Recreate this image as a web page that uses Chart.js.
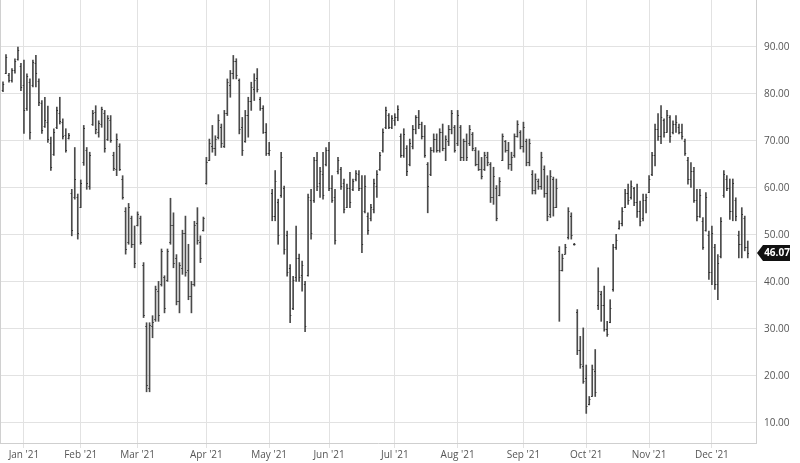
<!DOCTYPE html>
<html>
<head>
  <meta charset="UTF-8" />
  <title>OHLC 2021</title>
  <script src="https://cdn.jsdelivr.net/npm/chart.js"></script>
  <style>
    html, body { margin: 0; padding: 0; background: #ffffff; }
    #wrap { width: 800px; height: 463px; }
  </style>
</head>
<body>
  <div id="wrap"><canvas id="chart"></canvas></div>

  <script>
    // trading days per month (Dec '20 .. Dec '21)
    const monthNames = ['Dec', 'Jan', 'Feb', 'Mar', 'Apr', 'May', 'Jun', 'Jul', 'Aug', 'Sep', 'Oct', 'Nov', 'Dec'];
    const monthYears = ['20', '21', '21', '21', '21', '21', '21', '21', '21', '21', '21', '21', '21'];
    const monthDays = [
      [22, 23, 24, 28, 29, 30, 31],
      [4, 5, 6, 7, 8, 11, 12, 13, 14, 15, 19, 20, 21, 22, 25, 26, 27, 28, 29],
      [1, 2, 3, 4, 5, 8, 9, 10, 11, 12, 16, 17, 18, 19, 22, 23, 24, 25, 26],
      [1, 2, 3, 4, 5, 8, 9, 10, 11, 12, 15, 16, 17, 18, 19, 22, 23, 24, 25, 26, 29, 30, 31],
      [1, 5, 6, 7, 8, 9, 12, 13, 14, 15, 16, 19, 20, 21, 22, 23, 26, 27, 28, 29, 30],
      [3, 4, 5, 6, 7, 10, 11, 12, 13, 14, 17, 18, 19, 20, 21, 24, 25, 26, 27, 28],
      [1, 2, 3, 4, 7, 8, 9, 10, 11, 14, 15, 16, 17, 18, 21, 22, 23, 24, 25, 28, 29, 30],
      [1, 2, 6, 7, 8, 9, 12, 13, 14, 15, 16, 19, 20, 21, 22, 23, 26, 27, 28, 29, 30],
      [2, 3, 4, 5, 6, 9, 10, 11, 12, 13, 16, 17, 18, 19, 20, 23, 24, 25, 26, 27, 30, 31],
      [1, 2, 3, 7, 8, 9, 10, 13, 14, 15, 16, 17, 20, 21, 22, 23, 24, 27, 28, 29, 30],
      [1, 4, 5, 6, 7, 8, 11, 12, 13, 14, 15, 18, 19, 20, 21, 22, 25, 26, 27, 28, 29],
      [1, 2, 3, 4, 5, 8, 9, 10, 11, 12, 15, 16, 17, 18, 19, 22, 23, 24, 26, 29, 30],
      [1, 2, 3, 6, 7, 8, 9, 10, 13, 14, 15, 16, 17]
    ];
    // visible span of the day axis, in trading-day slots
    const xMin = -1;
    const xMax = 251.75;

    const highs = [
      82.6, 88.4, 84.4, 85.4, 87.5, 90.0, 86.5, 87.2, 84.3, 83.2, 87.2, 88.2, 83.2, 78.6, 79.3, 77.4, 70.8, 72.6, 77.2, 79.3,
      74.7, 72.6, 71.6, 59.7, 68.6, 58.7, 61.7, 73.3, 68.6, 67.6, 76.5, 77.5, 74.3, 77.2, 76.5, 75.4, 75.4, 67.6, 71.5, 69.4,
      62.6, 55.8, 56.7, 54.0, 51.9, 54.9, 54.0, 44.1, 31.3, 31.3, 32.8, 39.1, 40.1, 47.0, 41.3, 47.0, 57.8, 54.7, 45.8, 44.1,
      51.0, 54.0, 48.0, 40.1, 52.9, 55.8, 49.8, 53.8, 66.5, 70.4, 73.3, 71.1, 75.6, 73.6, 76.5, 83.2, 85.0, 88.2, 87.5, 83.2,
      75.0, 76.5, 79.3, 82.5, 84.3, 85.4, 79.3, 77.5, 73.7, 69.7, 59.7, 63.7, 57.6, 67.6, 60.4, 50.8, 43.7, 41.2, 51.9, 45.9,
      44.4, 40.1, 58.7, 59.7, 66.5, 67.6, 64.4, 67.6, 68.6, 69.7, 62.6, 59.7, 66.5, 64.4, 61.9, 60.8, 63.3, 61.9, 63.7, 63.7,
      62.6, 62.6, 54.7, 56.5, 61.9, 63.7, 67.6, 72.6, 77.2, 75.8, 75.4, 75.8, 77.5, 71.5, 72.6, 69.0, 70.4, 73.3, 75.4, 76.5,
      74.0, 73.3, 65.4, 68.6, 71.5, 71.5, 72.6, 73.6, 71.1, 73.3, 76.5, 73.3, 76.5, 73.3, 70.4, 71.5, 73.3, 71.8, 68.6, 67.9,
      66.5, 67.6, 67.6, 65.4, 64.4, 60.5, 62.2, 71.5, 70.1, 69.7, 67.6, 71.5, 74.3, 72.2, 74.0, 70.4, 70.4, 63.7, 63.0, 61.9,
      67.6, 64.7, 62.6, 63.7, 62.3, 61.9, 47.5, 45.9, 48.0, 55.8, 54.7, 48.2, 34.1, 28.4, 30.2, 22.3, 15.6, 22.3, 25.6, 43.0,
      38.0, 39.1, 31.6, 36.2, 48.0, 50.1, 53.0, 55.8, 59.7, 60.8, 61.5, 60.1, 60.8, 57.2, 58.7, 58.7, 62.6, 67.6, 73.6, 75.8,
      77.5, 74.7, 76.5, 75.4, 74.3, 75.4, 73.6, 73.6, 70.4, 66.5, 65.4, 64.4, 59.7, 59.7, 53.7, 59.0, 50.8, 51.9, 48.0, 45.8,
      53.7, 63.7, 62.6, 61.9, 61.9, 57.9, 50.8, 55.8, 54.0, 48.7
    ];
    const lows = [
      80.5, 84.3, 82.5, 82.5, 84.4, 87.2, 80.7, 71.6, 76.5, 70.4, 81.5, 81.5, 77.5, 71.6, 72.9, 69.7, 63.7, 66.9, 72.6, 73.6,
      70.4, 67.6, 70.4, 49.8, 57.6, 49.1, 55.8, 64.8, 59.7, 59.7, 73.3, 71.5, 70.8, 72.9, 67.6, 70.1, 69.7, 63.7, 62.6, 63.7,
      57.6, 45.9, 48.0, 47.3, 43.0, 51.9, 48.0, 32.4, 16.6, 16.6, 28.1, 31.6, 31.6, 39.1, 33.4, 40.1, 48.0, 43.0, 35.1, 33.4,
      41.6, 41.2, 36.2, 33.4, 39.1, 48.0, 44.1, 50.8, 60.8, 65.8, 67.6, 66.9, 70.4, 68.6, 68.6, 75.4, 79.3, 83.2, 83.2, 71.5,
      66.9, 69.7, 70.8, 76.5, 78.6, 80.4, 76.5, 71.6, 66.9, 66.9, 53.0, 53.0, 48.0, 58.0, 45.9, 41.2, 31.3, 34.1, 40.1, 40.1,
      38.0, 29.4, 41.2, 49.1, 56.9, 59.4, 58.0, 57.6, 64.7, 59.4, 56.9, 48.0, 63.0, 59.7, 54.7, 55.8, 55.8, 59.4, 61.5, 59.4,
      46.2, 54.7, 50.1, 53.0, 54.7, 58.0, 63.7, 67.6, 72.6, 72.6, 72.6, 73.3, 74.3, 66.5, 66.5, 62.6, 64.7, 68.3, 71.5, 72.6,
      70.4, 66.5, 54.7, 62.6, 67.6, 67.6, 67.6, 67.9, 65.8, 69.0, 71.5, 67.6, 69.0, 65.8, 65.8, 65.8, 69.0, 67.9, 64.7, 63.7,
      61.9, 63.7, 64.7, 56.9, 56.5, 53.0, 58.3, 65.8, 67.6, 64.0, 63.7, 66.5, 70.8, 68.3, 67.6, 64.7, 64.7, 58.7, 58.7, 59.7,
      59.7, 58.0, 53.0, 53.7, 54.0, 55.8, 31.6, 42.3, 45.9, 49.1, 49.1, 47.8, 24.5, 21.6, 18.4, 12.0, 13.8, 15.6, 15.6, 34.1,
      31.6, 29.5, 28.4, 31.3, 38.0, 46.9, 51.2, 51.9, 55.8, 56.5, 57.6, 56.2, 53.7, 51.9, 53.0, 54.7, 59.0, 62.6, 64.7, 70.1,
      69.4, 70.8, 71.8, 69.7, 71.5, 71.8, 71.5, 70.4, 66.9, 60.8, 60.1, 56.9, 53.0, 53.7, 46.9, 50.8, 40.5, 39.4, 38.4, 36.2,
      45.1, 58.0, 59.4, 53.3, 53.0, 53.0, 45.1, 45.1, 46.6, 45.1
    ];
    const opens = [
      80.9, 84.5, 84.1, 83.0, 85.0, 87.5, 86.0, 82.0, 77.0, 82.5, 82.0, 86.5, 82.8, 78.0, 73.2, 74.0, 69.5, 67.2, 73.0, 76.0,
      74.0, 71.2, 70.6, 59.0, 58.0, 58.0, 56.0, 65.5, 68.0, 60.5, 73.6, 76.2, 72.0, 73.5, 76.0, 70.5, 74.5, 67.0, 64.0, 69.0,
      62.0, 55.0, 48.5, 53.5, 48.0, 52.2, 53.5, 43.5, 30.5, 17.5, 30.5, 32.0, 38.0, 39.5, 41.0, 40.5, 48.5, 52.0, 45.0, 36.0,
      43.0, 50.5, 42.5, 37.0, 39.5, 52.5, 48.5, 51.0, 61.0, 66.0, 69.0, 68.5, 70.8, 73.0, 69.0, 76.0, 82.0, 84.5, 87.0, 83.0,
      73.0, 70.0, 75.5, 78.5, 81.0, 83.5, 79.0, 77.0, 72.0, 67.5, 59.0, 54.0, 57.0, 58.5, 60.0, 50.0, 43.0, 34.5, 41.0, 45.0,
      41.5, 39.5, 41.5, 57.5, 57.5, 66.0, 61.0, 63.0, 65.0, 68.0, 60.0, 58.0, 63.5, 64.0, 61.0, 56.0, 60.0, 59.8, 61.8, 63.0,
      60.0, 55.0, 54.0, 53.5, 55.5, 60.5, 64.0, 68.0, 73.0, 75.5, 73.0, 74.5, 75.0, 71.0, 67.0, 68.5, 65.0, 69.0, 72.5, 75.0,
      73.5, 71.0, 65.0, 63.0, 68.0, 70.5, 68.0, 72.0, 68.5, 70.0, 72.5, 73.0, 69.5, 73.0, 66.5, 70.0, 69.5, 71.5, 68.0, 65.0,
      64.0, 64.0, 66.5, 65.0, 58.0, 60.0, 58.5, 66.0, 70.0, 68.0, 65.0, 67.0, 71.0, 72.0, 69.0, 70.0, 65.5, 63.0, 59.5, 61.5,
      60.5, 64.0, 59.0, 54.5, 62.0, 56.0, 46.5, 42.5, 46.0, 49.5, 54.0, 48.0, 33.5, 25.5, 22.0, 19.5, 14.0, 15.8, 21.0, 35.0,
      37.5, 35.0, 30.0, 31.5, 38.5, 47.5, 51.5, 52.5, 56.0, 59.0, 58.0, 60.0, 57.0, 55.0, 53.5, 57.5, 59.2, 63.0, 67.0, 72.5,
      71.0, 74.5, 72.0, 75.0, 71.8, 73.5, 73.0, 72.0, 70.0, 66.0, 62.0, 63.5, 57.5, 54.0, 53.0, 51.0, 50.0, 42.0, 47.5, 39.5,
      45.5, 58.5, 62.0, 60.0, 55.0, 57.5, 50.0, 48.0, 53.5, 47.5
    ];
    const closes = [
      82.2, 87.9, 83.0, 85.0, 87.0, 89.3, 81.5, 76.5, 83.8, 72.0, 86.8, 84.5, 78.2, 72.3, 74.5, 70.5, 64.5, 72.0, 76.5, 74.2,
      71.0, 68.0, 71.2, 51.0, 62.0, 50.5, 61.0, 72.8, 61.0, 67.0, 76.0, 72.5, 73.8, 76.8, 68.5, 74.8, 70.2, 64.2, 70.5, 64.0,
      58.0, 47.0, 56.0, 48.0, 44.0, 54.5, 48.5, 33.0, 18.0, 30.8, 31.5, 38.5, 33.0, 46.5, 34.5, 46.5, 52.0, 44.0, 36.0, 43.5,
      50.5, 42.0, 37.0, 39.5, 52.0, 49.0, 45.0, 53.5, 65.5, 69.5, 68.5, 70.5, 74.5, 69.5, 76.0, 82.5, 84.5, 87.0, 84.0, 72.5,
      68.0, 75.5, 78.5, 81.5, 83.0, 81.0, 77.0, 72.0, 67.5, 68.0, 54.0, 61.5, 50.0, 66.5, 47.0, 42.0, 33.0, 40.5, 45.0, 41.0,
      43.5, 30.5, 58.0, 50.5, 66.0, 60.5, 63.5, 58.5, 68.0, 60.0, 57.5, 49.0, 66.0, 60.5, 55.5, 60.0, 57.0, 61.5, 63.2, 60.0,
      48.0, 60.5, 51.0, 56.0, 61.0, 63.0, 67.0, 72.0, 76.5, 73.0, 74.8, 75.0, 76.8, 67.0, 71.5, 63.5, 69.5, 72.5, 75.0, 73.5,
      71.0, 67.0, 60.5, 68.0, 70.5, 68.0, 72.0, 68.5, 70.5, 72.5, 76.0, 68.0, 75.5, 66.5, 70.0, 66.5, 72.5, 68.5, 65.0, 64.0,
      62.5, 67.0, 65.5, 58.0, 62.5, 53.5, 61.5, 71.0, 68.0, 65.0, 66.5, 71.0, 73.5, 69.0, 73.0, 65.5, 69.5, 59.5, 62.0, 60.5,
      66.5, 59.0, 54.0, 62.5, 56.0, 60.0, 42.5, 45.0, 47.5, 55.0, 50.0, 48.0, 25.5, 22.5, 19.0, 13.5, 15.0, 21.5, 16.5, 38.0,
      35.0, 30.0, 29.0, 34.5, 47.5, 49.0, 52.5, 55.0, 59.0, 57.5, 60.5, 57.0, 55.0, 53.0, 57.5, 58.0, 62.0, 67.0, 72.5, 71.0,
      75.0, 72.0, 75.5, 71.0, 73.5, 74.0, 72.0, 71.0, 67.5, 62.0, 63.5, 57.5, 54.0, 58.5, 47.5, 58.0, 42.0, 50.5, 39.5, 44.0,
      53.0, 63.0, 60.0, 55.0, 61.0, 54.0, 48.0, 54.5, 47.5, 46.07
    ];
    const yTicks = [10, 20, 30, 40, 50, 60, 70, 80, 90];

    // day labels and month-start positions
    const labels = [];
    const monthStart = {};
    monthDays.forEach((days, m) => {
      days.forEach((d, k) => {
        if (k === 0 && m > 0) monthStart[labels.length] = monthNames[m] + " '" + monthYears[m];
        labels.push(monthNames[m] + ' ' + d);
      });
    });
    const monthTickIdx = Object.keys(monthStart).map(Number);

    const gridColor = '#e2e2e2';
    const barColor = '#4a4a4a';
    const lastClose = closes[closes.length - 1];

    const ohlcTicks = {
      id: 'ohlcTicks',
      beforeDatasetsDraw(chart) {
        const { ctx, chartArea } = chart;
        ctx.save();
        ctx.strokeStyle = '#d0d0d0';
        ctx.lineWidth = 1;
        ctx.beginPath();
        ctx.moveTo(chartArea.left + 0.5, chartArea.top);
        ctx.lineTo(chartArea.left + 0.5, chartArea.bottom);
        ctx.stroke();
        ctx.restore();
      },
      afterDatasetsDraw(chart) {
        const { ctx, scales: { x, y } } = chart;
        ctx.save();
        ctx.strokeStyle = '#333333';
        ctx.lineWidth = 1;
        ctx.beginPath();
        for (let i = 0; i < highs.length; i++) {
          const px = x.getPixelForValue(i);
          const yo = Math.round(y.getPixelForValue(opens[i])) + 0.5;
          const yc = Math.round(y.getPixelForValue(closes[i])) + 0.5;
          ctx.moveTo(px - 1.2, yo); ctx.lineTo(px, yo);
          ctx.moveTo(px, yc); ctx.lineTo(px + 1.2, yc);
        }
        ctx.stroke();
        ctx.restore();
      },
      afterDraw(chart) {
        const { ctx, chartArea, scales: { y } } = chart;
        const py = Math.round(y.getPixelForValue(lastClose));
        const x0 = chartArea.right + 1;
        ctx.save();
        ctx.fillStyle = '#111111';
        ctx.beginPath();
        ctx.moveTo(x0, py);
        ctx.lineTo(x0 + 6, py - 8);
        ctx.lineTo(x0 + 33, py - 8);
        ctx.lineTo(x0 + 33, py + 8);
        ctx.lineTo(x0 + 6, py + 8);
        ctx.closePath();
        ctx.fill();
        ctx.fillStyle = '#ffffff';
        ctx.font = 'bold 10px "Open Sans"';
        ctx.textAlign = 'center';
        ctx.textBaseline = 'middle';
        ctx.fillText(lastClose.toFixed(2), x0 + 20, py + 0.5);
        ctx.restore();
      }
    };

    const ctx = document.getElementById('chart').getContext('2d');
    new Chart(ctx, {
      type: 'bar',
      data: {
        datasets: [{
          label: 'OHLC',
          data: highs.map((h, i) => ({ x: i, y: [lows[i], h] })),
          backgroundColor: barColor,
          borderWidth: 0,
          barThickness: 1,
          borderSkipped: false
        }]
      },
      options: {
        responsive: true,
        maintainAspectRatio: false,
        animation: false,
        layout: { padding: 0 },
        plugins: {
          legend: { display: false },
          tooltip: { enabled: false }
        },
        scales: {
          x: {
            type: 'linear',
            min: xMin,
            max: xMax,
            offset: false,
            grid: {
              color: gridColor,
              offset: false,
              tickLength: 5,
              drawTicks: true
            },
            border: { display: true, color: '#cfcfcf' },
            afterBuildTicks(scale) {
              scale.ticks = monthTickIdx.map(v => ({ value: v }));
            },
            afterFit(scale) {
              scale.height = 20;
              scale.paddingLeft = 0;
              scale.paddingRight = 0;
            },
            ticks: {
              autoSkip: false,
              maxRotation: 0,
              padding: 1,
              color: '#555555',
              font: { family: 'Open Sans', size: 10 },
              callback(value) { return monthStart[value]; }
            }
          },
          y: {
            position: 'right',
            min: 5.7,
            max: 100,
            grid: { color: gridColor, drawTicks: false },
            border: { display: true, color: '#cfcfcf' },
            afterBuildTicks(scale) {
              scale.ticks = yTicks.map(v => ({ value: v }));
            },
            afterFit(scale) {
              scale.width = 44;
              scale.paddingTop = 0;
              scale.paddingBottom = 0;
            },
            ticks: {
              padding: 8,
              color: '#555555',
              font: { family: 'Open Sans', size: 10 },
              callback(value) { return value.toFixed(2); }
            }
          }
        }
      },
      plugins: [ohlcTicks]
    });
  </script>
</body>
</html>
